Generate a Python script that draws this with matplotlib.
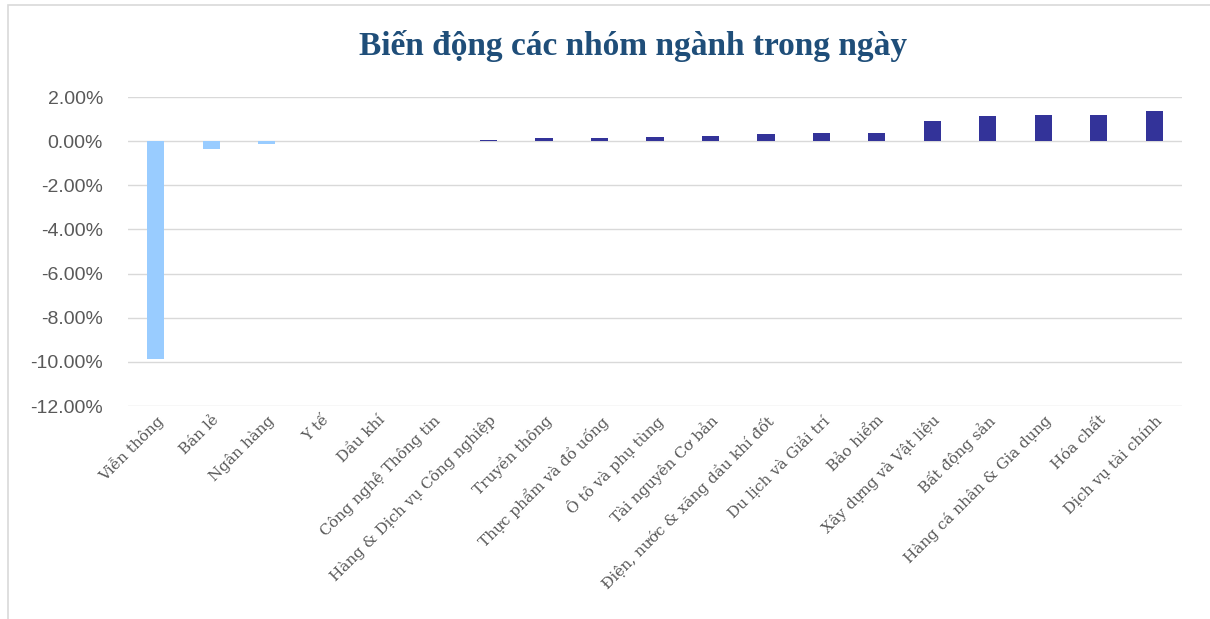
import matplotlib
matplotlib.use("Agg")
import matplotlib.pyplot as plt
from matplotlib.patches import Rectangle
from matplotlib.ticker import FuncFormatter

# nhóm ngành và biến động (%) trong ngày
sectors = ["Viễn thông", "Bán lẻ", "Ngân hàng", "Y tế", "Dầu khí",
           "Công nghệ Thông tin", "Hàng & Dịch vụ Công nghiệp", "Truyền thông",
           "Thực phẩm và đồ uống", "Ô tô và phụ tùng", "Tài nguyên Cơ bản",
           "Điện, nước & xăng dầu khí đốt", "Du lịch và Giải trí", "Bảo hiểm",
           "Xây dựng và Vật liệu", "Bất động sản", "Hàng cá nhân & Gia dụng",
           "Hóa chất", "Dịch vụ tài chính"]
changes = [-9.85, -0.35, -0.12, 0.0, 0.0, 0.0, 0.07, 0.12, 0.15, 0.20, 0.24,
           0.33, 0.36, 0.36, 0.91, 1.15, 1.18, 1.19, 1.36]

neg_color = "#99CCFF"
pos_color = "#333399"

fig = plt.figure(figsize=(12.1, 6.19), dpi=100)
fig.patches.append(Rectangle((8 / 1210, -0.01), 1.0, 1 - 5 / 619 + 0.01,
                             transform=fig.transFigure, fill=False,
                             edgecolor="#D9D9D9", linewidth=1.2))

ax = fig.add_axes([128 / 1210, 1 - 406 / 619, (1182 - 128) / 1210, (406 - 97) / 619])
colors = [neg_color if v < 0 else pos_color for v in changes]
ax.bar(range(len(sectors)), changes, width=0.31, color=colors, zorder=3)

ax.set_ylim(-12, 2)
ax.set_xlim(-0.5, len(sectors) - 0.5)
ax.set_yticks(range(-12, 3, 2))
ax.yaxis.set_major_formatter(FuncFormatter(lambda v, p: f"{v:.2f}%"))
ax.grid(axis="y", color="#D9D9D9", linewidth=1, zorder=0)
for s in ax.spines.values():
    s.set_visible(False)
ax.tick_params(axis="both", length=0, colors="#595959")
ax.tick_params(axis="y", labelsize=14, pad=18)
for lbl in ax.get_yticklabels():
    lbl.set_family("Liberation Sans")

ax.set_xticks(range(len(sectors)))
ax.set_xticklabels(sectors, rotation=45, ha="right", rotation_mode="anchor",
                   family="DejaVu Serif", fontsize=11, color="#595959")
ax.tick_params(axis="x", pad=5)

fig.text(633 / 1210, 1 - 46 / 619, "Biến động các nhóm ngành trong ngày",
         ha="center", va="center", fontsize=24, fontweight="bold",
         family="Liberation Serif", color="#1F4E79")

fig.savefig("out.png", dpi=100)
